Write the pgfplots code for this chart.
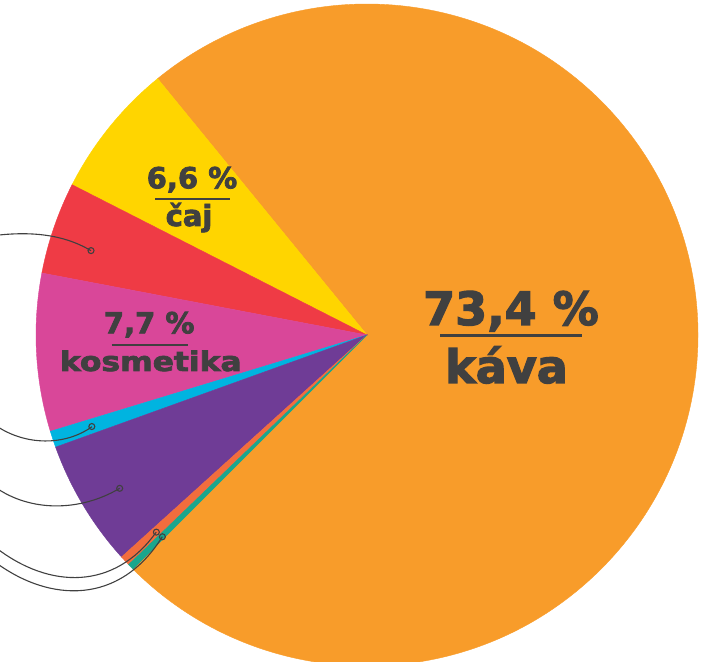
\documentclass[border=0pt]{standalone}
\usepackage{fontspec}
\setmainfont{DejaVu Sans}
\newfontfamily\heavy{DejaVu Sans}[BoldFeatures={FakeBold=2.6}]
\usepackage{graphicx}
\usepackage{pgfplots}
\pgfplotsset{compat=1.18}

\definecolor{cKava}{HTML}{F89C2A}
\definecolor{cCaj}{HTML}{FFD500}
\definecolor{cRed}{HTML}{EF3B45}
\definecolor{cKos}{HTML}{D94799}
\definecolor{cCyan}{HTML}{00B4E0}
\definecolor{cPurple}{HTML}{6F3C96}
\definecolor{cOR}{HTML}{F26D3D}
\definecolor{cTeal}{HTML}{1BA68D}
\definecolor{txt}{HTML}{404040}

% data (percent)
\def\vKava{73.4}
\def\vCaj{6.6}
\def\vRed{4.5}
\def\vKos{7.7}
\def\vCyan{0.8}
\def\vPurple{6.2}
\def\vOR{0.5}
\def\vTeal{0.3}

\pgfmathsetmacro\aA{-135}
\pgfmathsetmacro\aB{\aA+3.6*\vKava}
\pgfmathsetmacro\aC{\aB+3.6*\vCaj}
\pgfmathsetmacro\aD{\aC+3.6*\vRed}
\pgfmathsetmacro\aE{\aD+3.6*\vKos}
\pgfmathsetmacro\aF{\aE+3.6*\vCyan}
\pgfmathsetmacro\aG{\aF+3.6*\vPurple}
\pgfmathsetmacro\aH{\aG+3.6*\vOR}
\pgfmathsetmacro\aI{\aH+3.6*\vTeal}

\newcommand\slice[3]{\fill[#1,draw=#1,line width=0.4bp] (axis cs:367,-335) -- ++(#2:331bp) arc[start angle=#2, end angle=#3, radius=331bp] -- cycle;}
\newcommand\dotat[1]{\draw[txt,line width=1.1bp] (axis cs:367,-335) ++(#1) circle[radius=3bp];}

\begin{document}
\begin{tikzpicture}
\begin{axis}[hide axis, x=1bp, y=1bp, xmin=0, xmax=716, ymin=-662, ymax=0, clip=true]
\addplot[draw=none] coordinates {(0,-662) (716,0)};
\slice{cKava}{\aA}{\aB}
\slice{cCaj}{\aB}{\aC}
\slice{cRed}{\aC}{\aD}
\slice{cKos}{\aD}{\aE}
\slice{cCyan}{\aE}{\aF}
\slice{cPurple}{\aF}{\aG}
\slice{cOR}{\aG}{\aH}
\slice{cTeal}{\aH}{\aI}
% leader lines
\draw[txt,line width=1.1bp] (axis cs:91,-250.7) .. controls (axis cs:70,-238) and (axis cs:40,-230) .. (axis cs:-5,-235.5);
\draw[txt,line width=1.1bp] (axis cs:92,-426.7) .. controls (axis cs:65,-446) and (axis cs:25,-446) .. (axis cs:-5,-425);
\draw[txt,line width=1.1bp] (axis cs:119.7,-488.3) .. controls (axis cs:80,-512) and (axis cs:30,-512) .. (axis cs:-5,-487);
\draw[txt,line width=1.1bp] (axis cs:156.3,-532) .. controls (axis cs:115,-590) and (axis cs:50,-590) .. (axis cs:-5,-547);
\draw[txt,line width=1.1bp] (axis cs:162.3,-536.7) .. controls (axis cs:120,-605) and (axis cs:50,-603) .. (axis cs:-5,-562);
\dotat{163.0:288.6bp}
\dotat{198.4:290bp}
\dotat{211.8:291bp}
\dotat{223.1:288.5bp}
\dotat{224.6:287.4bp}
% labels
\node[anchor=base,inner sep=0,text=txt,font=\heavy\bfseries\fontsize{46bp}{50bp}\selectfont] at (axis cs:511,-325) {73,4 \%};
\draw[txt,line width=3bp] (axis cs:440,-335.7) -- (axis cs:582,-335.7);
\node[anchor=base,inner sep=0,text=txt,font=\heavy\bfseries\fontsize{46bp}{50bp}\selectfont] at (axis cs:506.5,-383) {káva};
\node[anchor=base,inner sep=0,text=txt,font=\heavy\bfseries\fontsize{29bp}{32bp}\selectfont] at (axis cs:192,-188.3) {6,6 \%};
\draw[txt,line width=2.3bp] (axis cs:155,-199) -- (axis cs:230,-199);
\node[anchor=base,inner sep=0,text=txt,font=\heavy\bfseries\fontsize{29bp}{32bp}\selectfont] at (axis cs:189,-226) {čaj};
\node[anchor=base,inner sep=0,text=txt,font=\heavy\bfseries\fontsize{29bp}{32bp}\selectfont] at (axis cs:149.2,-333.3) {7,7 \%};
\draw[txt,line width=2.3bp] (axis cs:111.7,-345) -- (axis cs:188.3,-345);
\node[anchor=base,inner sep=0,text=txt,font=\heavy\bfseries\fontsize{27bp}{30bp}\selectfont] at (axis cs:150.8,-371) {\scalebox{1.16}[1]{kosmetika}};
\coordinate (bl) at (axis cs:0,-662);
\coordinate (tr) at (axis cs:716,0);
\end{axis}
\pgfresetboundingbox
\path[use as bounding box] (bl) rectangle (tr);
\end{tikzpicture}
\end{document}
